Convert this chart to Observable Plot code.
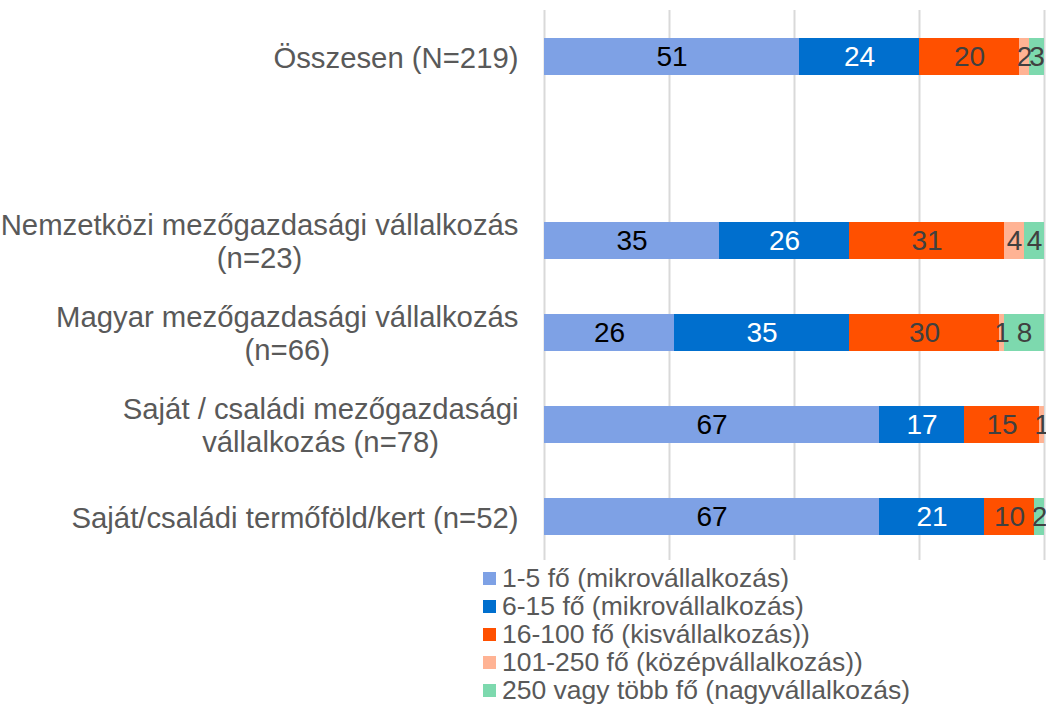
<!DOCTYPE html>
<html><head><meta charset="utf-8">
<script src="https://cdn.jsdelivr.net/npm/d3@7"></script>
<script src="https://cdn.jsdelivr.net/npm/@observablehq/plot@0.6"></script>
<style>
body{margin:0;background:#fff;font-family:"Liberation Sans",Arial,sans-serif;}
#wrap{position:relative;width:1046px;height:707px;overflow:hidden;}
#legend{position:absolute;left:483px;top:564px;font-size:26.5px;color:#595959;}
.row{display:flex;align-items:center;height:28px;white-space:nowrap}
.sw{width:13px;height:13px;margin-right:6px;flex:none}
</style></head><body><div id="wrap"><div id="chart"></div><div id="legend"></div></div>
<script>
// Categories (top to bottom); a blank spacer row follows the first one
const categories = [
  "Összesen (N=219)",
  "Nemzetközi mezőgazdasági vállalkozás\n(n=23)",
  "Magyar mezőgazdasági vállalkozás\n(n=66)",
  "Saját / családi mezőgazdasági\nvállalkozás (n=78)",
  "Saját/családi termőföld/kert (n=52)"
];
const spacer = " ";
const seriesNames = [
  "1-5 fő (mikrovállalkozás)",
  "6-15 fő (mikrovállalkozás)",
  "16-100 fő (kisvállalkozás))",
  "101-250 fő (középvállalkozás))",
  "250 vagy több fő (nagyvállalkozás)"
];
const colors = ["#7ea1e5", "#006fce", "#ff5000", "#ffb394", "#7dd9ae"];
const labelColors = ["#000000", "#ffffff", "#404040", "#404040", "#404040"];
// Values per series, aligned with categories (%)
const v1_5 = [51, 35, 26, 67, 67];
const v6_15 = [24, 26, 35, 17, 21];
const v16_100 = [20, 31, 30, 15, 10];
const v101_250 = [2, 4, 1, 1, 0];
const v250plus = [3, 4, 8, 0, 2];
const xTicks = [0, 25, 50, 75, 100];

const seriesValues = [v1_5, v6_15, v16_100, v101_250, v250plus];
const data = [];
categories.forEach((c, i) => seriesNames.forEach((s, j) => data.push({category: c, series: s, si: j, value: seriesValues[j][i]})));

const font = '"Liberation Sans", Arial, sans-serif';
const catFont = 29.3, valFont = 28;
const ctx = document.createElement("canvas").getContext("2d");
ctx.font = `${catFont}px "Liberation Sans"`;
const labelMarks = categories.map(c => {
  const w = d3.max(c.split("\n"), l => ctx.measureText(l).width);
  return Plot.text([c], {y: d => d, text: d => d, frameAnchor: "left", textAnchor: "middle",
    dx: -26 - w / 2, lineHeight: 1.13, fontSize: catFont, fill: "#595959"});
});

const valueMarks = seriesNames.map((s, j) =>
  Plot.text(data, Plot.stackX({x: "value", y: "category", z: "series", order: seriesNames,
    text: d => (d.si === j && d.value > 0 ? String(d.value) : null),
    fill: labelColors[j], fontSize: valFont}))
);

const chart = Plot.plot({
  width: 1046, height: 560,
  marginLeft: 544, marginRight: 2, marginTop: 10, marginBottom: 0,
  style: {fontFamily: font, background: "#fff"},
  x: {domain: [0, 100], axis: null},
  y: {domain: [categories[0], spacer, ...categories.slice(1)], axis: null,
      range: [9.4, 562.9], paddingInner: 0.6, paddingOuter: 0.3},
  color: {domain: seriesNames, range: colors},
  marks: [
    Plot.ruleX(xTicks, {stroke: "#d9d9d9", strokeWidth: 2}),
    Plot.barX(data, Plot.stackX({x: "value", y: "category", fill: "series", order: seriesNames})),
    ...valueMarks,
    ...labelMarks
  ]
});
document.getElementById("chart").appendChild(chart);

const legend = document.getElementById("legend");
seriesNames.forEach((s, j) => {
  const row = document.createElement("div");
  row.className = "row";
  const sw = document.createElement("span");
  sw.className = "sw"; sw.style.background = colors[j];
  const t = document.createElement("span");
  t.textContent = s;
  row.appendChild(sw); row.appendChild(t);
  legend.appendChild(row);
});
</script></body></html>
